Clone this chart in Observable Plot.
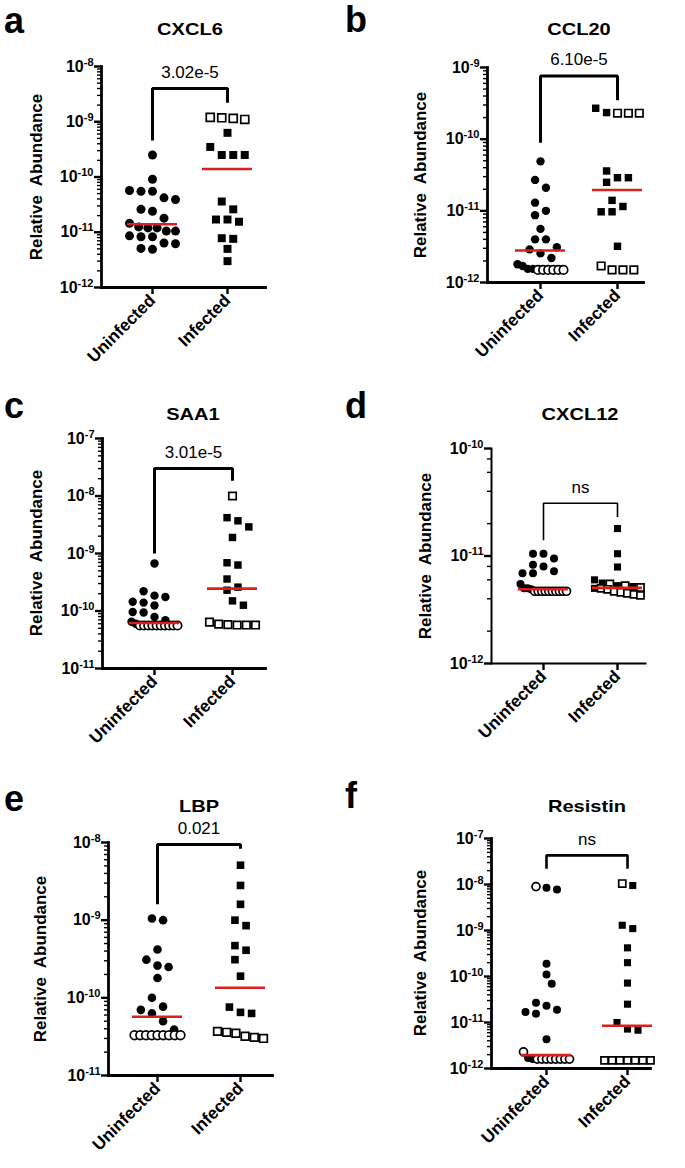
<!DOCTYPE html>
<html><head><meta charset="utf-8">
<script src="https://cdn.jsdelivr.net/npm/d3@7"></script>
<script src="https://cdn.jsdelivr.net/npm/@observablehq/plot@0.6"></script>
<style>
body{margin:0;background:#fff;}
#root{position:relative;width:685px;height:1168px;overflow:hidden;font-family:"Liberation Sans",Arial,Helvetica,sans-serif;color:#000;background:#fff;}
.lab{position:absolute;white-space:pre;line-height:1;color:#000;}
.panel{position:absolute;}
.panel svg{overflow:visible;}
</style></head><body><div id="root"></div>
<script>
// ---------- text ----------
const categories = ["Uninfected", "Infected"];
const panelLetters = ["a", "b", "c", "d", "e", "f"];
const titles = ["CXCL6", "CCL20", "SAA1", "CXCL12", "LBP", "Resistin"];
const pLabels = ["3.02e-5", "6.10e-5", "3.01e-5", "ns", "0.021", "ns"];
const yLabel = "Relative  Abundance";
const yDomains = [[1e-12, 1e-8], [1e-12, 1e-9], [1e-11, 1e-7], [1e-12, 1e-10], [1e-11, 1e-8], [1e-12, 1e-7]];

// ---------- data (filled = measured, open = at limit) ----------
// a CXCL6
const cxcl6Uninfected = [2.5e-10, 9.1e-11, 5.5e-11, 5.5e-11, 5.7e-11, 4.2e-11, 3.9e-11, 2.6e-11, 2.4e-11, 1.8e-11, 1.45e-11, 1.25e-11, 1.2e-11, 1.2e-11, 1.05e-11, 1.05e-11, 8.6e-12, 8.3e-12, 8.3e-12, 6.2e-12, 6.4e-12, 5.1e-12, 4.9e-12];
const cxcl6UninfectedOpen = [];
const cxcl6Infected = [6.3e-10, 3.5e-10, 2.5e-10, 2.5e-10, 2.5e-10, 3.6e-11, 2.6e-11, 1.7e-11, 1.7e-11, 1.55e-11, 7.8e-12, 7.6e-12, 5e-12, 3e-12];
const cxcl6InfectedOpen = [1.15e-9, 1.2e-9, 1.1e-9, 1.18e-9];
// b CCL20
const ccl20Uninfected = [4.9e-11, 2.7e-11, 2.1e-11, 1.3e-11, 1.0e-11, 8.7e-12, 5.6e-12, 4.0e-12, 4.0e-12, 3.1e-12, 2.9e-12, 2.55e-12, 2.2e-12, 1.8e-12, 1.7e-12, 1.55e-12, 1.55e-12];
const ccl20UninfectedOpen = [1.5e-12, 1.5e-12, 1.5e-12, 1.5e-12, 1.5e-12, 1.5e-12];
const ccl20Infected = [2.7e-10, 2.35e-10, 3.6e-11, 2.9e-11, 2.9e-11, 2.5e-11, 1.4e-11, 1.15e-11, 9.7e-12, 9.7e-12, 3.2e-12];
const ccl20InfectedOpen = [2.3e-10, 2.3e-10, 2.3e-10, 1.5e-12, 1.7e-12, 1.5e-12, 1.5e-12];
// c SAA1
const saa1Uninfected = [6.7e-10, 2.2e-10, 1.85e-10, 1.75e-10, 1.45e-10, 1.4e-10, 1.25e-10, 9.6e-11, 9.4e-11, 7.9e-11, 6.9e-11, 6.5e-11, 6.0e-11];
const saa1UninfectedOpen = [5.6e-11, 5.6e-11, 5.6e-11, 5.6e-11, 5.6e-11, 5.6e-11, 5.6e-11, 5.6e-11, 5.6e-11, 5.6e-11];
const saa1Infected = [4.2e-9, 3.7e-9, 2.9e-9, 1.9e-9, 6.9e-10, 6.3e-10, 3.6e-10, 2.6e-10, 2.3e-10, 1.5e-10, 1.26e-10];
const saa1InfectedOpen = [1e-8, 5.8e-11, 6.4e-11, 5.7e-11, 5.9e-11, 5.7e-11, 5.7e-11];
// d CXCL12
const cxcl12Uninfected = [1.05e-11, 1.05e-11, 9.5e-12, 8.3e-12, 8.0e-12, 7.2e-12, 6.9e-12, 6.9e-12, 5.5e-12, 5.0e-12, 4.9e-12, 5.0e-12];
const cxcl12UninfectedOpen = [4.7e-12, 4.7e-12, 4.7e-12, 4.7e-12, 4.7e-12, 4.7e-12, 4.7e-12, 4.7e-12, 4.7e-12, 4.7e-12];
const cxcl12Infected = [1.8e-11, 1.05e-11, 7.9e-12, 6.0e-12, 5.6e-12, 5.3e-12, 5.2e-12, 5.0e-12];
const cxcl12InfectedOpen = [5.5e-12, 5.3e-12, 5.1e-12, 5.0e-12, 4.9e-12, 4.7e-12, 4.6e-12, 4.5e-12, 4.4e-12, 4.3e-12];
// e LBP
const lbpUninfected = [1.0e-9, 1.05e-9, 4.2e-10, 3.1e-10, 2.6e-10, 2.5e-10, 1.8e-10, 1.0e-10, 7.7e-11, 7.0e-11, 6.3e-11, 5.0e-11, 3.9e-11];
const lbpUninfectedOpen = [3.3e-11, 3.3e-11, 3.3e-11, 3.3e-11, 3.3e-11, 3.3e-11, 3.3e-11, 3.3e-11, 3.3e-11];
const lbpInfected = [5.1e-9, 2.8e-9, 1.6e-9, 1.0e-9, 8.5e-10, 4.7e-10, 4.1e-10, 3.1e-10, 1.9e-10, 7.6e-11, 6.3e-11, 6.5e-11];
const lbpInfectedOpen = [3.1e-11, 3.6e-11, 3.7e-11, 3.2e-11, 3.5e-11, 3.0e-11];
// f Resistin
const resistinUninfected = [8.5e-9, 7.8e-9, 1.9e-10, 1.1e-10, 7.0e-11, 2.7e-11, 2.3e-11, 1.9e-11, 1.7e-11, 1.55e-11, 4.3e-12, 1.7e-12, 1.6e-12];
const resistinUninfectedOpen = [9.0e-9, 2.3e-12, 1.6e-12, 1.6e-12, 1.6e-12, 1.6e-12, 1.6e-12, 1.6e-12, 1.6e-12, 1.6e-12];
const resistinInfected = [9.5e-9, 1.3e-9, 1.1e-9, 4.2e-10, 2.0e-10, 7.2e-11, 2.5e-11, 1.0e-11, 7.2e-12, 6.8e-12];
const resistinInfectedOpen = [1.05e-8, 1.5e-12, 1.5e-12, 1.5e-12, 1.5e-12, 1.5e-12, 1.5e-12, 1.5e-12];

// medians (red lines)
const medianUninfected = [1.4e-11, 2.8e-12, 6.2e-11, 4.9e-12, 5.7e-11, 1.95e-12];
const medianInfected = [1.4e-10, 1.95e-11, 2.45e-10, 5.05e-12, 1.35e-10, 8.5e-12];
// significance brackets (y values)
const bracketTop = [4e-9, 7.6e-10, 3e-8, 3.1e-11, 9.4e-9, 4.3e-8];
const bracketLeft = [4.6e-10, 8.9e-11, 1e-9, 1.4e-11, 1.6e-9, 2.2e-8];
const bracketRight = [2.2e-9, 3.5e-10, 1.85e-8, 2.3e-11, 8.3e-9, 2.2e-8];

const groupsData = [
  [cxcl6Uninfected, cxcl6UninfectedOpen, cxcl6Infected, cxcl6InfectedOpen],
  [ccl20Uninfected, ccl20UninfectedOpen, ccl20Infected, ccl20InfectedOpen],
  [saa1Uninfected, saa1UninfectedOpen, saa1Infected, saa1InfectedOpen],
  [cxcl12Uninfected, cxcl12UninfectedOpen, cxcl12Infected, cxcl12InfectedOpen],
  [lbpUninfected, lbpUninfectedOpen, lbpInfected, lbpInfectedOpen],
  [resistinUninfected, resistinUninfectedOpen, resistinInfected, resistinInfectedOpen]
];

// ---------- layout (page pixels) ----------
const ALL = [2,3,4,5,6,7,8,9];
const layout = [
  {svgLeft:0,   axis:101, right:265, top:66,  bottom:287,  c0:152, c1:227, letter:[4,33],    titleY:35,  ylabX:36,  lw:2.8, bw:3,   r:4.5, minor:ALL},
  {svgLeft:340, axis:487, right:643, top:67,  bottom:282,  c0:540, c1:617, letter:[345,32],  titleY:35,  ylabX:420, lw:2.8, bw:3,   r:4.2, minor:ALL},
  {svgLeft:0,   axis:102, right:265, top:438, bottom:668,  c0:154, c1:232, letter:[4,418],   titleY:420, ylabX:36,  lw:2.8, bw:3,   r:4.2, minor:ALL},
  {svgLeft:340, axis:491, right:645, top:448, bottom:663,  c0:543, c1:617, letter:[345,418], titleY:420, ylabX:425, lw:2,   bw:1.6, r:4,   minor:[2,4,6,8]},
  {svgLeft:0,   axis:108, right:272, top:842, bottom:1075, c0:157, c1:240, letter:[4,811],   titleY:812, ylabX:40,  lw:2.8, bw:3,   r:4.3, minor:ALL},
  {svgLeft:340, axis:491, right:650, top:838, bottom:1068, c0:546, c1:627, letter:[345,808], titleY:812, ylabX:420, lw:2.8, bw:2.6, r:4,   minor:ALL}
];

const RED = "#d9201c";
const FONT = '"Liberation Sans", Arial, Helvetica, sans-serif';
const root = document.getElementById("root");

function addText(txt, x, baseline, fs, weight, transform) {
  const d = document.createElement("div");
  d.className = "lab";
  d.textContent = txt;
  d.style.fontSize = fs + "px";
  d.style.fontWeight = weight;
  d.style.left = x + "px";
  d.style.top = (baseline - 0.8465 * fs) + "px";
  if (transform) d.style.transform = transform;
  root.appendChild(d);
  return d;
}

// arrange points of one group in rows (scatter dot plot spread)
function swarm(items, pxPerDecade, hiLog, r, W) {
  const D = 2 * r + 2.5;
  const tol = 0.8 * D;
  const pts = items.map(d => ({...d, py: (hiLog - Math.log10(d.v)) * pxPerDecade})).sort((a, b) => a.py - b.py);
  const rows = [];
  for (const p of pts) {
    const row = rows[rows.length - 1];
    if (row && p.py - row[0].py < tol) row.push(p); else rows.push([p]);
  }
  const placed = [];
  for (const row of rows) {
    const n = row.length;
    const s = n > 1 ? Math.min(D, 2 * W / (n - 1)) : 0;
    const base = row.map((p, k) => (k - (n - 1) / 2) * s);
    let best = 0, bestCost = Infinity;
    for (const sh of [0, D / 2, -D / 2, D, -D, 1.5 * D, -1.5 * D]) {
      let cost = Math.abs(sh) * 0.02;
      row.forEach((p, k) => {
        const x = base[k] + sh;
        if (Math.abs(x) > W + 0.5) cost += 1e6;
        for (const q of placed) {
          const dd = Math.hypot(x - q.off, p.py - q.py);
          if (dd < D) cost += D - dd;
        }
      });
      if (cost < bestCost - 1e-9) { bestCost = cost; best = sh; }
    }
    row.forEach((p, k) => { p.off = base[k] + best; placed.push(p); });
  }
  return pts;
}

layout.forEach((L, pi) => {
  const [lo, hi] = yDomains[pi];
  const nDec = Math.round(Math.log10(hi) - Math.log10(lo));
  const pxPerDecade = (L.bottom - L.top) / nDec;
  const ppu = L.c1 - L.c0;
  const svgTop = L.top - 40;
  const width = L.svgLeft === 0 ? 340 : 345;
  const height = (L.bottom + 100) - svgTop;

  const [uF, uO, iF, iO] = groupsData[pi];
  let points = [];
  [[uF, uO], [iF, iO]].forEach(([filled, open], gi) => {
    const items = filled.map(v => ({v, open: false, g: gi})).concat(open.map(v => ({v, open: true, g: gi})));
    const sw = swarm(items, pxPerDecade, Math.log10(hi), L.r, 23);
    sw.forEach(p => { p.x = gi + p.off / ppu; });
    points = points.concat(sw);
  });

  const decades = d3.range(nDec + 1).map(k => lo * Math.pow(10, k));
  const minors = [];
  for (let k = 0; k < nDec; k++) for (const m of L.minor) minors.push(m * lo * Math.pow(10, k));

  const medians = [{g: 0, v: medianUninfected[pi]}, {g: 1, v: medianInfected[pi]}];
  const hw = 25 / ppu;
  const bracket = [
    {x: 0, y: bracketLeft[pi]}, {x: 0, y: bracketTop[pi]},
    {x: 1, y: bracketTop[pi]}, {x: 1, y: bracketRight[pi]}
  ];

  const dotStyle = (gi, open) => ({
    x: "x", y: "v", r: L.r,
    symbol: gi === 0 ? "circle" : "square",
    fill: open ? "white" : "black",
    stroke: open ? "black" : "none",
    strokeWidth: open ? 1.7 : 0
  });

  const chart = Plot.plot({
    width, height,
    marginLeft: L.axis - L.svgLeft,
    marginRight: L.svgLeft + width - L.right,
    marginTop: L.top - svgTop,
    marginBottom: svgTop + height - L.bottom,
    style: {fontFamily: FONT, fontSize: "16px", color: "black", background: "transparent", overflow: "visible"},
    x: {type: "linear", domain: [0, 1], range: [L.c0 - L.svgLeft, L.c1 - L.svgLeft], label: null},
    y: {type: "log", domain: [lo, hi], label: null},
    marks: [
      Plot.axisY({ticks: minors, tickFormat: () => "", tickSize: 4, strokeWidth: 1.4, label: null}),
      Plot.axisY({ticks: decades, tickFormat: d => "10^" + Math.round(Math.log10(d)), tickSize: 7, tickPadding: 1, strokeWidth: 2.4, fontSize: 16, fontWeight: "bold", label: null}),
      Plot.axisX({ticks: [0, 1], tickFormat: i => categories[i], tickRotate: -45, tickSize: 7, tickPadding: 3, strokeWidth: 2.4, fontSize: 17, fontWeight: "bold", label: null}),
      Plot.frame({anchor: "left", strokeWidth: L.lw, strokeLinecap: "square"}),
      Plot.frame({anchor: "bottom", strokeWidth: L.lw, strokeLinecap: "square"}),
      Plot.line(bracket, {x: "x", y: "y", stroke: "black", strokeWidth: L.bw, strokeLinejoin: "miter", strokeLinecap: "butt"}),
      Plot.text([pLabels[pi]], {x: [0.5], y: [bracketTop[pi]], text: d => d, dy: -16, fontSize: 17, fontWeight: "normal", fill: "black"}),
      Plot.dot(points.filter(p => p.g === 0 && !p.open), dotStyle(0, false)),
      Plot.dot(points.filter(p => p.g === 0 && p.open), dotStyle(0, true)),
      Plot.dot(points.filter(p => p.g === 1 && !p.open), dotStyle(1, false)),
      Plot.dot(points.filter(p => p.g === 1 && p.open), dotStyle(1, true)),
      Plot.ruleY(medians, {y: "v", x1: d => d.g - hw, x2: d => d.g + hw, stroke: RED, strokeWidth: 2.6})
    ]
  });

  // superscript exponents on y tick labels
  d3.select(chart).selectAll("text").each(function () {
    const t = this.textContent;
    const m = t.match(/^10\^(-?\d+)$/);
    if (m) {
      const sel = d3.select(this);
      sel.text(null);
      sel.append("tspan").text("10");
      sel.append("tspan").attr("dy", "-0.55em").attr("font-size", "11px").text(m[1]);
    }
  });

  const wrap = document.createElement("div");
  wrap.className = "panel";
  wrap.style.left = L.svgLeft + "px";
  wrap.style.top = svgTop + "px";
  wrap.appendChild(chart);
  root.appendChild(wrap);

  // panel letter, title, y label
  addText(panelLetters[pi], L.letter[0], L.letter[1], 36, "bold");
  const tx = (L.c0 + L.c1) / 2;
  addText(titles[pi], tx, L.titleY, 17, "bold", "translateX(-50%) scaleX(1.18)");
  const yl = addText(yLabel, L.ylabX, 0, 17, "bold");
  yl.style.top = ((L.top + L.bottom) / 2) + "px";
  yl.style.transform = "translate(-50%,-50%) rotate(-90deg)";
});
</script>
</body></html>
